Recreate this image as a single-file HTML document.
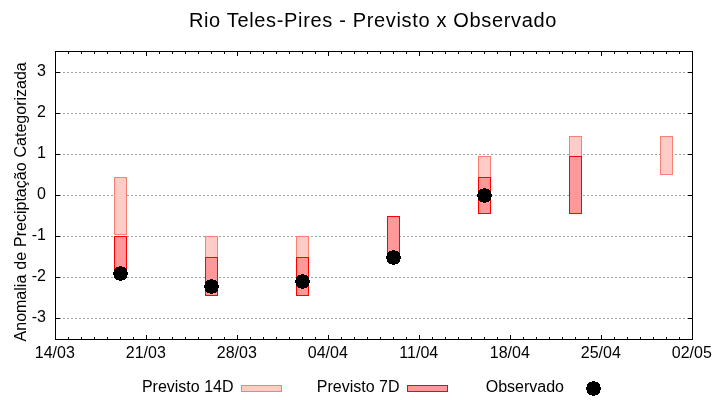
<!DOCTYPE html>
<html><head><meta charset="utf-8"><title>Rio Teles-Pires - Previsto x Observado</title>
<style>html,body{margin:0;padding:0;background:#fff;}svg{display:block;}text{font-family:"Liberation Sans",sans-serif;fill:#000;}</style>
</head><body>
<svg width="720" height="400" viewBox="0 0 720 400">
<rect x="0" y="0" width="720" height="400" fill="#ffffff"/>
<g stroke="#a0a0a0" stroke-width="1" stroke-dasharray="2 2" fill="none">
<line x1="55" y1="318.5" x2="692" y2="318.5"/>
<line x1="55" y1="277.5" x2="692" y2="277.5"/>
<line x1="55" y1="236.5" x2="692" y2="236.5"/>
<line x1="55" y1="195.5" x2="692" y2="195.5"/>
<line x1="55" y1="154.5" x2="692" y2="154.5"/>
<line x1="55" y1="113.5" x2="692" y2="113.5"/>
<line x1="55" y1="72.5" x2="692" y2="72.5"/>
</g>
<g stroke="#000" stroke-width="1" fill="none">
<line x1="55.5" y1="318.5" x2="60.0" y2="318.5"/>
<line x1="692.5" y1="318.5" x2="688.0" y2="318.5"/>
<line x1="55.5" y1="277.5" x2="60.0" y2="277.5"/>
<line x1="692.5" y1="277.5" x2="688.0" y2="277.5"/>
<line x1="55.5" y1="236.5" x2="60.0" y2="236.5"/>
<line x1="692.5" y1="236.5" x2="688.0" y2="236.5"/>
<line x1="55.5" y1="195.5" x2="60.0" y2="195.5"/>
<line x1="692.5" y1="195.5" x2="688.0" y2="195.5"/>
<line x1="55.5" y1="154.5" x2="60.0" y2="154.5"/>
<line x1="692.5" y1="154.5" x2="688.0" y2="154.5"/>
<line x1="55.5" y1="113.5" x2="60.0" y2="113.5"/>
<line x1="692.5" y1="113.5" x2="688.0" y2="113.5"/>
<line x1="55.5" y1="72.5" x2="60.0" y2="72.5"/>
<line x1="692.5" y1="72.5" x2="688.0" y2="72.5"/>
<line x1="55.5" y1="339.5" x2="55.5" y2="335.0"/>
<line x1="55.5" y1="51.5" x2="55.5" y2="56.0"/>
<line x1="68.5" y1="339.5" x2="68.5" y2="337.0"/>
<line x1="68.5" y1="51.5" x2="68.5" y2="54.0"/>
<line x1="81.5" y1="339.5" x2="81.5" y2="337.0"/>
<line x1="81.5" y1="51.5" x2="81.5" y2="54.0"/>
<line x1="94.5" y1="339.5" x2="94.5" y2="337.0"/>
<line x1="94.5" y1="51.5" x2="94.5" y2="54.0"/>
<line x1="107.5" y1="339.5" x2="107.5" y2="337.0"/>
<line x1="107.5" y1="51.5" x2="107.5" y2="54.0"/>
<line x1="120.5" y1="339.5" x2="120.5" y2="337.0"/>
<line x1="120.5" y1="51.5" x2="120.5" y2="54.0"/>
<line x1="133.5" y1="339.5" x2="133.5" y2="337.0"/>
<line x1="133.5" y1="51.5" x2="133.5" y2="54.0"/>
<line x1="146.5" y1="339.5" x2="146.5" y2="335.0"/>
<line x1="146.5" y1="51.5" x2="146.5" y2="56.0"/>
<line x1="159.5" y1="339.5" x2="159.5" y2="337.0"/>
<line x1="159.5" y1="51.5" x2="159.5" y2="54.0"/>
<line x1="172.5" y1="339.5" x2="172.5" y2="337.0"/>
<line x1="172.5" y1="51.5" x2="172.5" y2="54.0"/>
<line x1="185.5" y1="339.5" x2="185.5" y2="337.0"/>
<line x1="185.5" y1="51.5" x2="185.5" y2="54.0"/>
<line x1="198.5" y1="339.5" x2="198.5" y2="337.0"/>
<line x1="198.5" y1="51.5" x2="198.5" y2="54.0"/>
<line x1="211.5" y1="339.5" x2="211.5" y2="337.0"/>
<line x1="211.5" y1="51.5" x2="211.5" y2="54.0"/>
<line x1="224.5" y1="339.5" x2="224.5" y2="337.0"/>
<line x1="224.5" y1="51.5" x2="224.5" y2="54.0"/>
<line x1="237.5" y1="339.5" x2="237.5" y2="335.0"/>
<line x1="237.5" y1="51.5" x2="237.5" y2="56.0"/>
<line x1="250.5" y1="339.5" x2="250.5" y2="337.0"/>
<line x1="250.5" y1="51.5" x2="250.5" y2="54.0"/>
<line x1="263.5" y1="339.5" x2="263.5" y2="337.0"/>
<line x1="263.5" y1="51.5" x2="263.5" y2="54.0"/>
<line x1="276.5" y1="339.5" x2="276.5" y2="337.0"/>
<line x1="276.5" y1="51.5" x2="276.5" y2="54.0"/>
<line x1="289.5" y1="339.5" x2="289.5" y2="337.0"/>
<line x1="289.5" y1="51.5" x2="289.5" y2="54.0"/>
<line x1="302.5" y1="339.5" x2="302.5" y2="337.0"/>
<line x1="302.5" y1="51.5" x2="302.5" y2="54.0"/>
<line x1="315.5" y1="339.5" x2="315.5" y2="337.0"/>
<line x1="315.5" y1="51.5" x2="315.5" y2="54.0"/>
<line x1="328.5" y1="339.5" x2="328.5" y2="335.0"/>
<line x1="328.5" y1="51.5" x2="328.5" y2="56.0"/>
<line x1="341.5" y1="339.5" x2="341.5" y2="337.0"/>
<line x1="341.5" y1="51.5" x2="341.5" y2="54.0"/>
<line x1="354.5" y1="339.5" x2="354.5" y2="337.0"/>
<line x1="354.5" y1="51.5" x2="354.5" y2="54.0"/>
<line x1="367.5" y1="339.5" x2="367.5" y2="337.0"/>
<line x1="367.5" y1="51.5" x2="367.5" y2="54.0"/>
<line x1="380.5" y1="339.5" x2="380.5" y2="337.0"/>
<line x1="380.5" y1="51.5" x2="380.5" y2="54.0"/>
<line x1="393.5" y1="339.5" x2="393.5" y2="337.0"/>
<line x1="393.5" y1="51.5" x2="393.5" y2="54.0"/>
<line x1="406.5" y1="339.5" x2="406.5" y2="337.0"/>
<line x1="406.5" y1="51.5" x2="406.5" y2="54.0"/>
<line x1="419.5" y1="339.5" x2="419.5" y2="335.0"/>
<line x1="419.5" y1="51.5" x2="419.5" y2="56.0"/>
<line x1="432.5" y1="339.5" x2="432.5" y2="337.0"/>
<line x1="432.5" y1="51.5" x2="432.5" y2="54.0"/>
<line x1="445.5" y1="339.5" x2="445.5" y2="337.0"/>
<line x1="445.5" y1="51.5" x2="445.5" y2="54.0"/>
<line x1="458.5" y1="339.5" x2="458.5" y2="337.0"/>
<line x1="458.5" y1="51.5" x2="458.5" y2="54.0"/>
<line x1="471.5" y1="339.5" x2="471.5" y2="337.0"/>
<line x1="471.5" y1="51.5" x2="471.5" y2="54.0"/>
<line x1="484.5" y1="339.5" x2="484.5" y2="337.0"/>
<line x1="484.5" y1="51.5" x2="484.5" y2="54.0"/>
<line x1="497.5" y1="339.5" x2="497.5" y2="337.0"/>
<line x1="497.5" y1="51.5" x2="497.5" y2="54.0"/>
<line x1="510.5" y1="339.5" x2="510.5" y2="335.0"/>
<line x1="510.5" y1="51.5" x2="510.5" y2="56.0"/>
<line x1="523.5" y1="339.5" x2="523.5" y2="337.0"/>
<line x1="523.5" y1="51.5" x2="523.5" y2="54.0"/>
<line x1="536.5" y1="339.5" x2="536.5" y2="337.0"/>
<line x1="536.5" y1="51.5" x2="536.5" y2="54.0"/>
<line x1="549.5" y1="339.5" x2="549.5" y2="337.0"/>
<line x1="549.5" y1="51.5" x2="549.5" y2="54.0"/>
<line x1="562.5" y1="339.5" x2="562.5" y2="337.0"/>
<line x1="562.5" y1="51.5" x2="562.5" y2="54.0"/>
<line x1="575.5" y1="339.5" x2="575.5" y2="337.0"/>
<line x1="575.5" y1="51.5" x2="575.5" y2="54.0"/>
<line x1="588.5" y1="339.5" x2="588.5" y2="337.0"/>
<line x1="588.5" y1="51.5" x2="588.5" y2="54.0"/>
<line x1="601.5" y1="339.5" x2="601.5" y2="335.0"/>
<line x1="601.5" y1="51.5" x2="601.5" y2="56.0"/>
<line x1="614.5" y1="339.5" x2="614.5" y2="337.0"/>
<line x1="614.5" y1="51.5" x2="614.5" y2="54.0"/>
<line x1="627.5" y1="339.5" x2="627.5" y2="337.0"/>
<line x1="627.5" y1="51.5" x2="627.5" y2="54.0"/>
<line x1="640.5" y1="339.5" x2="640.5" y2="337.0"/>
<line x1="640.5" y1="51.5" x2="640.5" y2="54.0"/>
<line x1="653.5" y1="339.5" x2="653.5" y2="337.0"/>
<line x1="653.5" y1="51.5" x2="653.5" y2="54.0"/>
<line x1="666.5" y1="339.5" x2="666.5" y2="337.0"/>
<line x1="666.5" y1="51.5" x2="666.5" y2="54.0"/>
<line x1="679.5" y1="339.5" x2="679.5" y2="337.0"/>
<line x1="679.5" y1="51.5" x2="679.5" y2="54.0"/>
<line x1="692.5" y1="339.5" x2="692.5" y2="335.0"/>
<line x1="692.5" y1="51.5" x2="692.5" y2="56.0"/>
</g>
<rect x="114.5" y="177.5" width="12" height="57.0" fill="#fdccc7" stroke="#fa8072" stroke-width="1"/>
<rect x="205.5" y="236.5" width="12" height="21.0" fill="#fdccc7" stroke="#fa8072" stroke-width="1"/>
<rect x="296.5" y="236.5" width="12" height="21.0" fill="#fdccc7" stroke="#fa8072" stroke-width="1"/>
<rect x="478.5" y="156.5" width="12" height="21.0" fill="#fdccc7" stroke="#fa8072" stroke-width="1"/>
<rect x="569.5" y="136.5" width="12" height="20.0" fill="#fdccc7" stroke="#fa8072" stroke-width="1"/>
<rect x="660.5" y="136.5" width="12" height="38.0" fill="#fdccc7" stroke="#fa8072" stroke-width="1"/>
<rect x="114.5" y="236.5" width="12" height="37.0" fill="#ff9999" stroke="#ff0000" stroke-width="1"/>
<rect x="205.5" y="257.5" width="12" height="38.0" fill="#ff9999" stroke="#ff0000" stroke-width="1"/>
<rect x="296.5" y="257.5" width="12" height="38.0" fill="#ff9999" stroke="#ff0000" stroke-width="1"/>
<rect x="387.5" y="216.5" width="12" height="41.0" fill="#ff9999" stroke="#ff0000" stroke-width="1"/>
<rect x="478.5" y="177.5" width="12" height="36.0" fill="#ff9999" stroke="#ff0000" stroke-width="1"/>
<rect x="569.5" y="156.5" width="12" height="57.0" fill="#ff9999" stroke="#ff0000" stroke-width="1"/>
<rect x="55.5" y="51.5" width="637.0" height="288.0" fill="none" stroke="#000" stroke-width="1"/>
<path transform="translate(120.5 273.5)" d="M1.5 -7.5 L1.5 -6.5 L4.5 -6.5 L4.5 -5.5 L5.5 -5.5 L5.5 -4.5 L6.5 -4.5 L6.5 -3.5 L6.5 -3.5 L6.5 -2.5 L6.5 -2.5 L6.5 -1.5 L7.5 -1.5 L7.5 -0.5 L7.5 -0.5 L7.5 0.5 L7.5 0.5 L7.5 1.5 L6.5 1.5 L6.5 2.5 L6.5 2.5 L6.5 3.5 L6.5 3.5 L6.5 4.5 L5.5 4.5 L5.5 5.5 L4.5 5.5 L4.5 6.5 L1.5 6.5 L1.5 7.5 L-1.5 7.5 L-1.5 6.5 L-4.5 6.5 L-4.5 5.5 L-5.5 5.5 L-5.5 4.5 L-6.5 4.5 L-6.5 3.5 L-6.5 3.5 L-6.5 2.5 L-6.5 2.5 L-6.5 1.5 L-7.5 1.5 L-7.5 0.5 L-7.5 0.5 L-7.5 -0.5 L-7.5 -0.5 L-7.5 -1.5 L-6.5 -1.5 L-6.5 -2.5 L-6.5 -2.5 L-6.5 -3.5 L-6.5 -3.5 L-6.5 -4.5 L-5.5 -4.5 L-5.5 -5.5 L-4.5 -5.5 L-4.5 -6.5 L-1.5 -6.5 L-1.5 -7.5 Z" fill="#000" shape-rendering="crispEdges"/>
<path transform="translate(211.5 286.5)" d="M1.5 -7.5 L1.5 -6.5 L4.5 -6.5 L4.5 -5.5 L5.5 -5.5 L5.5 -4.5 L6.5 -4.5 L6.5 -3.5 L6.5 -3.5 L6.5 -2.5 L6.5 -2.5 L6.5 -1.5 L7.5 -1.5 L7.5 -0.5 L7.5 -0.5 L7.5 0.5 L7.5 0.5 L7.5 1.5 L6.5 1.5 L6.5 2.5 L6.5 2.5 L6.5 3.5 L6.5 3.5 L6.5 4.5 L5.5 4.5 L5.5 5.5 L4.5 5.5 L4.5 6.5 L1.5 6.5 L1.5 7.5 L-1.5 7.5 L-1.5 6.5 L-4.5 6.5 L-4.5 5.5 L-5.5 5.5 L-5.5 4.5 L-6.5 4.5 L-6.5 3.5 L-6.5 3.5 L-6.5 2.5 L-6.5 2.5 L-6.5 1.5 L-7.5 1.5 L-7.5 0.5 L-7.5 0.5 L-7.5 -0.5 L-7.5 -0.5 L-7.5 -1.5 L-6.5 -1.5 L-6.5 -2.5 L-6.5 -2.5 L-6.5 -3.5 L-6.5 -3.5 L-6.5 -4.5 L-5.5 -4.5 L-5.5 -5.5 L-4.5 -5.5 L-4.5 -6.5 L-1.5 -6.5 L-1.5 -7.5 Z" fill="#000" shape-rendering="crispEdges"/>
<path transform="translate(302.5 281.5)" d="M1.5 -7.5 L1.5 -6.5 L4.5 -6.5 L4.5 -5.5 L5.5 -5.5 L5.5 -4.5 L6.5 -4.5 L6.5 -3.5 L6.5 -3.5 L6.5 -2.5 L6.5 -2.5 L6.5 -1.5 L7.5 -1.5 L7.5 -0.5 L7.5 -0.5 L7.5 0.5 L7.5 0.5 L7.5 1.5 L6.5 1.5 L6.5 2.5 L6.5 2.5 L6.5 3.5 L6.5 3.5 L6.5 4.5 L5.5 4.5 L5.5 5.5 L4.5 5.5 L4.5 6.5 L1.5 6.5 L1.5 7.5 L-1.5 7.5 L-1.5 6.5 L-4.5 6.5 L-4.5 5.5 L-5.5 5.5 L-5.5 4.5 L-6.5 4.5 L-6.5 3.5 L-6.5 3.5 L-6.5 2.5 L-6.5 2.5 L-6.5 1.5 L-7.5 1.5 L-7.5 0.5 L-7.5 0.5 L-7.5 -0.5 L-7.5 -0.5 L-7.5 -1.5 L-6.5 -1.5 L-6.5 -2.5 L-6.5 -2.5 L-6.5 -3.5 L-6.5 -3.5 L-6.5 -4.5 L-5.5 -4.5 L-5.5 -5.5 L-4.5 -5.5 L-4.5 -6.5 L-1.5 -6.5 L-1.5 -7.5 Z" fill="#000" shape-rendering="crispEdges"/>
<path transform="translate(393.5 257.5)" d="M1.5 -7.5 L1.5 -6.5 L4.5 -6.5 L4.5 -5.5 L5.5 -5.5 L5.5 -4.5 L6.5 -4.5 L6.5 -3.5 L6.5 -3.5 L6.5 -2.5 L6.5 -2.5 L6.5 -1.5 L7.5 -1.5 L7.5 -0.5 L7.5 -0.5 L7.5 0.5 L7.5 0.5 L7.5 1.5 L6.5 1.5 L6.5 2.5 L6.5 2.5 L6.5 3.5 L6.5 3.5 L6.5 4.5 L5.5 4.5 L5.5 5.5 L4.5 5.5 L4.5 6.5 L1.5 6.5 L1.5 7.5 L-1.5 7.5 L-1.5 6.5 L-4.5 6.5 L-4.5 5.5 L-5.5 5.5 L-5.5 4.5 L-6.5 4.5 L-6.5 3.5 L-6.5 3.5 L-6.5 2.5 L-6.5 2.5 L-6.5 1.5 L-7.5 1.5 L-7.5 0.5 L-7.5 0.5 L-7.5 -0.5 L-7.5 -0.5 L-7.5 -1.5 L-6.5 -1.5 L-6.5 -2.5 L-6.5 -2.5 L-6.5 -3.5 L-6.5 -3.5 L-6.5 -4.5 L-5.5 -4.5 L-5.5 -5.5 L-4.5 -5.5 L-4.5 -6.5 L-1.5 -6.5 L-1.5 -7.5 Z" fill="#000" shape-rendering="crispEdges"/>
<path transform="translate(484.5 195.5)" d="M1.5 -7.5 L1.5 -6.5 L4.5 -6.5 L4.5 -5.5 L5.5 -5.5 L5.5 -4.5 L6.5 -4.5 L6.5 -3.5 L6.5 -3.5 L6.5 -2.5 L6.5 -2.5 L6.5 -1.5 L7.5 -1.5 L7.5 -0.5 L7.5 -0.5 L7.5 0.5 L7.5 0.5 L7.5 1.5 L6.5 1.5 L6.5 2.5 L6.5 2.5 L6.5 3.5 L6.5 3.5 L6.5 4.5 L5.5 4.5 L5.5 5.5 L4.5 5.5 L4.5 6.5 L1.5 6.5 L1.5 7.5 L-1.5 7.5 L-1.5 6.5 L-4.5 6.5 L-4.5 5.5 L-5.5 5.5 L-5.5 4.5 L-6.5 4.5 L-6.5 3.5 L-6.5 3.5 L-6.5 2.5 L-6.5 2.5 L-6.5 1.5 L-7.5 1.5 L-7.5 0.5 L-7.5 0.5 L-7.5 -0.5 L-7.5 -0.5 L-7.5 -1.5 L-6.5 -1.5 L-6.5 -2.5 L-6.5 -2.5 L-6.5 -3.5 L-6.5 -3.5 L-6.5 -4.5 L-5.5 -4.5 L-5.5 -5.5 L-4.5 -5.5 L-4.5 -6.5 L-1.5 -6.5 L-1.5 -7.5 Z" fill="#000" shape-rendering="crispEdges"/>
<text x="188.9" y="26.7" font-size="20" letter-spacing="0.66">Rio Teles-Pires - Previsto x Observado</text>
<text transform="translate(26,201.85) rotate(-90)" font-size="16" word-spacing="0.55" text-anchor="middle">Anomalia de Preciptação Categorizada</text>
<text x="46" y="322.0" font-size="16" text-anchor="end">-3</text>
<text x="46" y="281.0" font-size="16" text-anchor="end">-2</text>
<text x="46" y="240.0" font-size="16" text-anchor="end">-1</text>
<text x="46" y="199.0" font-size="16" text-anchor="end">0</text>
<text x="46" y="158.0" font-size="16" text-anchor="end">1</text>
<text x="46" y="117.0" font-size="16" text-anchor="end">2</text>
<text x="46" y="76.0" font-size="16" text-anchor="end">3</text>
<text x="54.8" y="358" font-size="16" text-anchor="middle">14/03</text>
<text x="145.8" y="358" font-size="16" text-anchor="middle">21/03</text>
<text x="236.8" y="358" font-size="16" text-anchor="middle">28/03</text>
<text x="327.8" y="358" font-size="16" text-anchor="middle">04/04</text>
<text x="418.8" y="358" font-size="16" text-anchor="middle">11/04</text>
<text x="509.8" y="358" font-size="16" text-anchor="middle">18/04</text>
<text x="600.8" y="358" font-size="16" text-anchor="middle">25/04</text>
<text x="691.8" y="358" font-size="16" text-anchor="middle">02/05</text>
<text x="233.5" y="392" font-size="16" text-anchor="end">Previsto 14D</text>
<rect x="241.5" y="385.5" width="40" height="6" fill="#fdccc7" stroke="#fa8072" stroke-width="1"/>
<text x="399.5" y="392" font-size="16" text-anchor="end">Previsto 7D</text>
<rect x="407.5" y="385.5" width="40" height="6" fill="#ff9999" stroke="#ff0000" stroke-width="1"/>
<text x="564" y="392" font-size="16" text-anchor="end">Observado</text>
<path transform="translate(593.5 388.5)" d="M1.5 -7.5 L1.5 -6.5 L4.5 -6.5 L4.5 -5.5 L5.5 -5.5 L5.5 -4.5 L6.5 -4.5 L6.5 -3.5 L6.5 -3.5 L6.5 -2.5 L6.5 -2.5 L6.5 -1.5 L7.5 -1.5 L7.5 -0.5 L7.5 -0.5 L7.5 0.5 L7.5 0.5 L7.5 1.5 L6.5 1.5 L6.5 2.5 L6.5 2.5 L6.5 3.5 L6.5 3.5 L6.5 4.5 L5.5 4.5 L5.5 5.5 L4.5 5.5 L4.5 6.5 L1.5 6.5 L1.5 7.5 L-1.5 7.5 L-1.5 6.5 L-4.5 6.5 L-4.5 5.5 L-5.5 5.5 L-5.5 4.5 L-6.5 4.5 L-6.5 3.5 L-6.5 3.5 L-6.5 2.5 L-6.5 2.5 L-6.5 1.5 L-7.5 1.5 L-7.5 0.5 L-7.5 0.5 L-7.5 -0.5 L-7.5 -0.5 L-7.5 -1.5 L-6.5 -1.5 L-6.5 -2.5 L-6.5 -2.5 L-6.5 -3.5 L-6.5 -3.5 L-6.5 -4.5 L-5.5 -4.5 L-5.5 -5.5 L-4.5 -5.5 L-4.5 -6.5 L-1.5 -6.5 L-1.5 -7.5 Z" fill="#000" shape-rendering="crispEdges"/>
</svg>
</body></html>
